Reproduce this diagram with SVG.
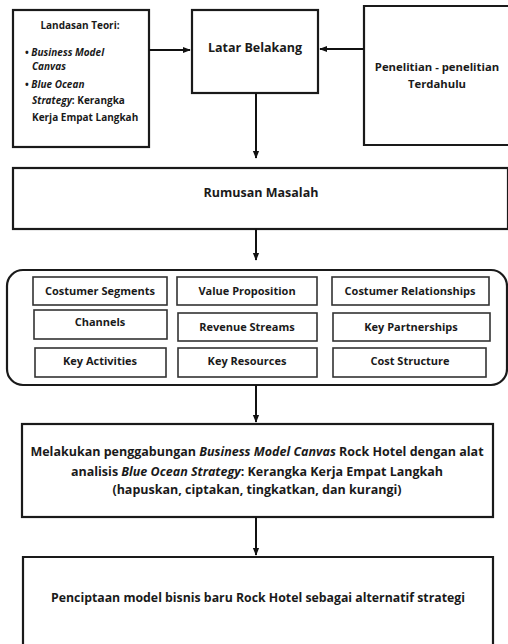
<svg xmlns="http://www.w3.org/2000/svg" width="508" height="644" viewBox="0 0 508 644">
<defs>
<marker id="ah" viewBox="0 0 10 10" refX="9" refY="5" markerWidth="4" markerHeight="4" orient="auto" markerUnits="strokeWidth">
<path d="M0,1 L10,5 L0,9 z" fill="#111"/>
</marker>
<style>
.box{fill:#fff;stroke:#1a1a1a;stroke-width:2.2}
.cell{fill:#fff;stroke:#333;stroke-width:1.6}
.t{font-family:"Open Sans",Lato,"Liberation Sans",sans-serif;font-weight:bold;fill:#1a1a1a;text-anchor:middle}
.l{font-family:"Open Sans",Lato,"Liberation Sans",sans-serif;font-weight:bold;fill:#1a1a1a}
.c{font-size:11px}
.conn{stroke:#111;stroke-width:2;fill:none;marker-end:url(#ah)}
</style>
</defs>
<rect width="508" height="644" fill="#fff"/>
<g id="landasan">
<rect class="box" x="13" y="10" width="136" height="137"/>
<text class="t" x="80" y="29" font-size="10">Landasan Teori:</text>
<text class="l" x="25" y="56" font-size="10">• <tspan font-style="italic">Business Model</tspan></text>
<text class="l" x="32" y="70" font-size="10" font-style="italic">Canvas</text>
<text class="l" x="25" y="88" font-size="10">• <tspan font-style="italic">Blue Ocean</tspan></text>
<text class="l" x="32" y="104" font-size="10"><tspan font-style="italic">Strategy</tspan>: Kerangka</text>
<text class="l" x="32" y="121" font-size="10">Kerja Empat Langkah</text>
</g>
<g id="latar">
<rect class="box" x="192" y="10" width="126" height="83"/>
<text class="t" x="255" y="52" font-size="12.5">Latar Belakang</text>
</g>
<g id="penelitian">
<path class="box" d="M510,6 H364 V145 H510"/>
<text class="t" x="437" y="71" font-size="11.3">Penelitian - penelitian</text>
<text class="t" x="437" y="88" font-size="11.3">Terdahulu</text>
</g>
<g id="rumusan">
<rect class="box" x="13" y="168" width="495" height="61"/>
<text class="t" x="261" y="197" font-size="12.5">Rumusan Masalah</text>
</g>
<g id="bmc">
<rect class="box" x="7" y="270" width="500" height="115" rx="16"/>
<g id="cs"><rect class="cell" x="33" y="277" width="134" height="28"/><text class="t c" x="100" y="295">Costumer Segments</text></g>
<g id="vp"><rect class="cell" x="177" y="277" width="140" height="28"/><text class="t c" x="247" y="295">Value Proposition</text></g>
<g id="cr"><rect class="cell" x="332" y="277" width="157" height="28"/><text class="t c" x="410" y="295">Costumer Relationships</text></g>
<g id="ch"><rect class="cell" x="34" y="310" width="133" height="29"/><text class="t c" x="100" y="326">Channels</text></g>
<g id="rs"><rect class="cell" x="178" y="313" width="139" height="28"/><text class="t c" x="247" y="331">Revenue Streams</text></g>
<g id="kp"><rect class="cell" x="333" y="313" width="157" height="28"/><text class="t c" x="411" y="331">Key Partnerships</text></g>
<g id="ka"><rect class="cell" x="35" y="348" width="131" height="29"/><text class="t c" x="100" y="365">Key Activities</text></g>
<g id="kr"><rect class="cell" x="178" y="348" width="139" height="29"/><text class="t c" x="247" y="365">Key Resources</text></g>
<g id="cst"><rect class="cell" x="333" y="348" width="153" height="29"/><text class="t c" x="410" y="365">Cost Structure</text></g>
</g>
<g id="melakukan">
<rect class="box" x="22" y="424" width="471" height="93"/>
<text class="t" x="257" y="456" font-size="12.5">Melakukan penggabungan <tspan font-style="italic">Business Model Canvas</tspan> Rock Hotel dengan alat</text>
<text class="t" x="257" y="476" font-size="12.5">analisis <tspan font-style="italic">Blue Ocean Strategy</tspan>: Kerangka Kerja Empat Langkah</text>
<text class="t" x="257" y="494" font-size="12.5">(hapuskan, ciptakan, tingkatkan, dan kurangi)</text>
</g>
<g id="penciptaan">
<path class="box" d="M23,650 V557 H493 V650"/>
<text class="t" x="258" y="602" font-size="12.3">Penciptaan model bisnis baru Rock Hotel sebagai alternatif strategi</text>
</g>
<g id="connectors">
<line class="conn" x1="149" y1="50" x2="190" y2="50"/>
<line class="conn" x1="364" y1="49" x2="320" y2="49"/>
<line class="conn" x1="256" y1="93" x2="256" y2="158"/>
<line class="conn" x1="256" y1="229" x2="256" y2="260"/>
<line class="conn" x1="256" y1="385" x2="256" y2="422"/>
<line class="conn" x1="256" y1="517" x2="256" y2="555"/>
</g>
</svg>
